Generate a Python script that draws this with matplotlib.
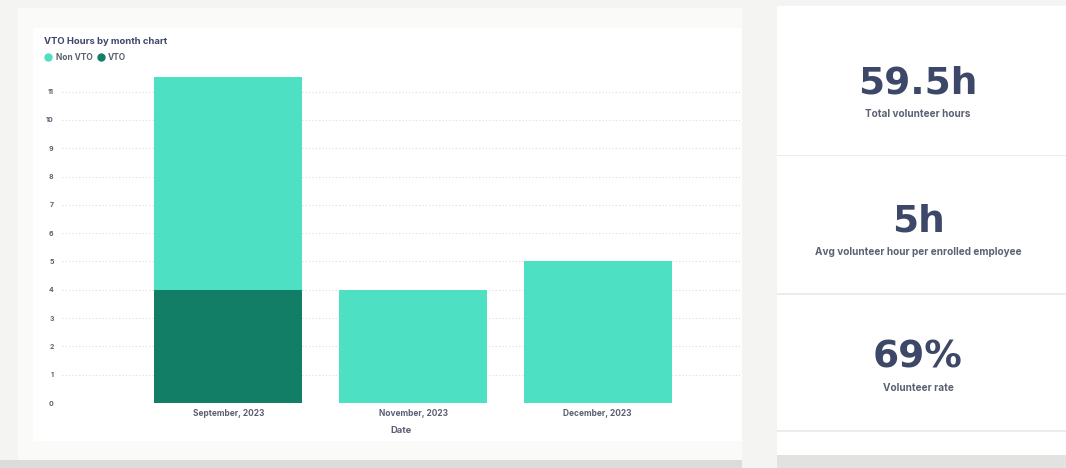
import numpy as np
import matplotlib.pyplot as plt
from matplotlib.patches import Rectangle
from matplotlib.lines import Line2D

plt.rcParams['font.family'] = ['Inter', 'DejaVu Sans']

# data
months = ['September, 2023', 'November, 2023', 'December, 2023']
vto = [4, 0, 0]
non_vto = [7.5, 4, 5]

stat_values = ['59.5h', '5h', '69%']
stat_labels = ['Total volunteer hours',
               'Avg volunteer hour per enrolled employee',
               'Volunteer rate']

light = '#4de0c2'
dark = '#137e66'
navy = '#3d4868'
grey_text = '#5b6072'

W, H = 1066, 468
fig = plt.figure(figsize=(W / 100, H / 100), dpi=100)
fig.patch.set_facecolor('#f4f4f2')


def px(x, y):
    # pixel coords (top-left origin) -> figure fraction
    return x / W, 1 - y / H


def box(x0, y0, x1, y1, color, z=-10):
    fx, fy = px(x0, y1)
    fig.patches.append(Rectangle((fx, fy), (x1 - x0) / W, (y1 - y0) / H,
                                 transform=fig.transFigure, facecolor=color,
                                 edgecolor='none', zorder=z))


# left panel backgrounds
box(18, 8, 742, 460, '#fafaf9')
box(33, 28, 742, 441, 'white', -9)
box(0, 460, 742, 468, '#dcdcda')
# right panel
box(777, 6, 1066, 455, 'white')
box(777, 455, 1066, 468, '#e2e2e0')
for yy in [155, 293, 430]:
    box(777, yy, 1066, yy + 1.5, '#ececec', -5)

# chart
ax = fig.add_axes([62 / W, 1 - 403 / H, (740 - 62) / W, (403 - 69) / H])
ax.set_facecolor('none')
x = np.arange(len(months))
ax.bar(x, vto, width=0.8, color=dark, zorder=3)
ax.bar(x, non_vto, width=0.8, bottom=vto, color=light, zorder=3)
ax.set_xlim(-0.9, 2.77)
ax.set_ylim(0, 11.8)
ax.set_yticks(range(0, 12))
ax.yaxis.grid(True, linestyle=(0, (1, 2)), color='#dddddd', linewidth=0.8)
ax.set_axisbelow(True)
for s in ax.spines.values():
    s.set_visible(False)
ax.tick_params(length=0, labelsize=5, colors=grey_text, pad=6)
for t in ax.get_yticklabels():
    t.set_fontweight('bold')
ax.set_xticks(x)
ax.set_xticklabels(months, fontsize=6, fontweight='bold', color=grey_text)
ax.tick_params(axis='x', pad=4)
ax.set_xlabel('Date', fontsize=6.8, fontweight='bold', color=grey_text, labelpad=6)

# title and legend
fig.text(*px(44, 41), 'VTO Hours by month chart', fontsize=6.8,
         fontweight='bold', color=navy, va='center')
fig.add_artist(Line2D([48 / W], [1 - 57 / H], marker='o', markersize=5,
                      color=light, transform=fig.transFigure))
fig.text(*px(56, 57), 'Non VTO', fontsize=6, fontweight='bold',
         color=grey_text, va='center')
fig.add_artist(Line2D([101 / W], [1 - 57 / H], marker='o', markersize=5,
                      color=dark, transform=fig.transFigure))
fig.text(*px(108, 57), 'VTO', fontsize=6, fontweight='bold',
         color=grey_text, va='center')

# stat cards
val_y = [83, 222, 357]
lab_y = [114, 252, 388]
for v, l, vy, ly in zip(stat_values, stat_labels, val_y, lab_y):
    fig.text(*px(918, vy), v, fontsize=27, fontweight='bold', color=navy,
             ha='center', va='center', family='DejaVu Sans')
    fig.text(*px(918, ly), l, fontsize=7.2, fontweight='bold', color=grey_text,
             ha='center', va='center')

fig.savefig('out.png', dpi=100, facecolor=fig.get_facecolor())
